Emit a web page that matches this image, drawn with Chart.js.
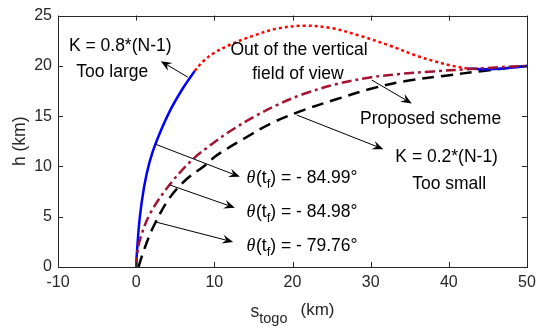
<!DOCTYPE html>
<html>
<head>
<meta charset="utf-8">
<script src="https://cdn.jsdelivr.net/npm/chart.js@4.4.0/dist/chart.umd.min.js"></script>
<style>
html, body { margin: 0; padding: 0; background: #fff; }
#wrap { width: 543px; height: 328px; }
</style>
</head>
<body>
<div id="wrap"><canvas id="trajChart" width="543" height="328"></canvas></div>
<script>
// axis ticks
var xTicks = [-10, 0, 10, 20, 30, 40, 50];
var yTicks = [0, 5, 10, 15, 20, 25];

// K = 0.8*(N-1), visible part
var blueX = [0, 0.1, 0.46, 1.0, 1.7, 2.6, 4.3, 6.0, 7.5];
var blueY = [0, 1.5, 4.9, 7.9, 10.4, 12.5, 15.5, 17.8, 19.5];
var blueTailX = [42.3, 44.9, 47.5, 50];
var blueTailY = [19.75, 19.66, 19.78, 19.98];

// out of the vertical field of view
var redX = [7.5, 8.5, 10, 12, 15, 18, 21.5, 25, 28.6, 32.5, 35.9, 38, 40.2, 42.3];
var redY = [19.5, 20.4, 21.3, 22.1, 23.0, 23.7, 24.0, 23.75, 23.0, 22.0, 21.0, 20.5, 20.05, 19.75];

// proposed scheme
var propX = [0, 0.12, 0.46, 1.74, 4.3, 7.3, 10, 12, 15, 18, 21.4, 25.7, 29.9, 33.8, 38, 42.3, 46, 50];
var propY = [0, 1.2, 2.65, 5.25, 8.2, 10.75, 12.4, 13.5, 14.9, 16.1, 17.2, 18.2, 18.85, 19.2, 19.45, 19.66, 19.85, 20];

// K = 0.2*(N-1)
var blackX = [0.3, 1.0, 2.2, 4.3, 6.4, 8.8, 10.3, 14.1, 17.3, 21.4, 25.7, 29.9, 34.5, 39.3, 44.4, 50];
var blackY = [0, 1.7, 4.0, 6.9, 8.7, 10.1, 11.1, 12.9, 14.3, 15.6, 16.7, 17.7, 18.5, 19.0, 19.5, 20];

var thetaLabels = ['- 84.99°', '- 84.98°', '- 79.76°'];

var SANS = "'Liberation Sans', Arial, Helvetica, sans-serif";
var AX = '#262626';

function pts(xs, ys) {
	return xs.map(function(x, i) { return {x: x, y: ys[i]}; });
}

function arrow(ctx, x1, y1, x2, y2) {
	var a = Math.atan2(y2 - y1, x2 - x1);
	var dx = Math.cos(a), dy = Math.sin(a);
	var len = 11, w = 4.5, notch = 7;
	ctx.beginPath();
	ctx.moveTo(x1, y1);
	ctx.lineTo(x2 - notch * dx, y2 - notch * dy);
	ctx.stroke();
	ctx.beginPath();
	ctx.moveTo(x2, y2);
	ctx.lineTo(x2 - len * dx - w * dy, y2 - len * dy + w * dx);
	ctx.lineTo(x2 - notch * dx, y2 - notch * dy);
	ctx.lineTo(x2 - len * dx + w * dy, y2 - len * dy - w * dx);
	ctx.closePath();
	ctx.fill();
}

var decorPlugin = {
	id: 'decor',
	afterDraw: function(chart) {
		var ctx = chart.ctx, a = chart.chartArea;
		var xs = chart.scales.x, ys = chart.scales.y;
		function px(v) { return xs.getPixelForValue(v); }
		function py(v) { return ys.getPixelForValue(v); }
		ctx.save();

		// box + inward ticks
		ctx.strokeStyle = AX;
		ctx.lineWidth = 1;
		ctx.strokeRect(Math.round(a.left) + 0.5, Math.round(a.top) + 0.5,
			Math.round(a.right - a.left), Math.round(a.bottom - a.top));
		ctx.beginPath();
		xTicks.forEach(function(v) {
			var x = Math.round(px(v)) + 0.5;
			ctx.moveTo(x, a.bottom); ctx.lineTo(x, a.bottom - 5);
			ctx.moveTo(x, a.top); ctx.lineTo(x, a.top + 5);
		});
		yTicks.forEach(function(v) {
			var y = Math.round(py(v)) + 0.5;
			ctx.moveTo(a.left, y); ctx.lineTo(a.left + 5, y);
			ctx.moveTo(a.right, y); ctx.lineTo(a.right - 5, y);
		});
		ctx.stroke();

		// axis titles
		ctx.fillStyle = AX;
		ctx.textBaseline = 'alphabetic';
		ctx.save();
		ctx.translate(25, (a.top + a.bottom) / 2);
		ctx.rotate(-Math.PI / 2);
		ctx.textAlign = 'center';
		ctx.font = '17.5px ' + SANS;
		ctx.fillText('h (km)', 0, 0);
		ctx.restore();

		ctx.textAlign = 'left';
		var cx = (a.left + a.right) / 2 - 42;
		ctx.font = '17.5px ' + SANS;
		ctx.fillText('s', cx, 317);
		cx += ctx.measureText('s').width;
		ctx.font = '14.5px ' + SANS;
		ctx.fillText('togo', cx, 323);
		cx += ctx.measureText('togo').width + 13;
		ctx.font = '17px ' + SANS;
		ctx.fillText('(km)', cx, 315);

		// annotations
		ctx.fillStyle = '#000';
		ctx.strokeStyle = '#000';
		ctx.font = '17.5px ' + SANS;
		ctx.textAlign = 'center';
		ctx.textBaseline = 'middle';
		ctx.fillText('K = 0.8*(N-1)', px(-2.04), py(21.92));
		ctx.fillText('Too large', px(-3.06), py(19.34));
		ctx.fillText('Out of the vertical', px(20.83), py(21.6));
		ctx.fillText('field of view', px(20.7), py(19.17));
		ctx.fillText('Proposed scheme', px(37.67), py(14.7));
		ctx.fillText('K = 0.2*(N-1)', px(39.72), py(10.91));
		ctx.fillText('Too small', px(40.04), py(8.22));

		ctx.lineWidth = 1;
		arrow(ctx, px(6.61), py(18.88), px(3.15), py(20.47));
		arrow(ctx, px(30.14), py(18.59), px(35.26), py(16.26));
		arrow(ctx, px(20.53), py(15.12), px(31.63), py(11.72));
		arrow(ctx, px(2.47), py(12.21), px(13.27), py(8.97));
		arrow(ctx, px(4.30), py(8.16), px(12.63), py(5.89));
		arrow(ctx, px(2.38), py(4.50), px(12.41), py(2.49));

		// theta(t_f) labels
		var thY = [8.97, 5.57, 2.17];
		ctx.textAlign = 'left';
		ctx.textBaseline = 'alphabetic';
		thetaLabels.forEach(function(lab, i) {
			var x = px(14.13), y = py(thY[i]) + 6;
			ctx.font = 'italic 18px "Liberation Serif", "Times New Roman", serif';
			ctx.fillText('θ', x, y);
			x += ctx.measureText('θ').width + 0.5;
			ctx.font = '17.5px ' + SANS;
			ctx.fillText('(t', x, y);
			x += ctx.measureText('(t').width;
			ctx.font = '13px ' + SANS;
			ctx.fillText('f', x, y + 5);
			x += ctx.measureText('f').width;
			ctx.font = '17.5px ' + SANS;
			ctx.fillText(') = ' + lab, x, y);
		});
		ctx.restore();
	}
};

var lineBase = {
	showLine: true,
	pointRadius: 0,
	borderWidth: 2.5,
	fill: false,
	tension: 0.35
};

var conf_traj = {
	type: 'scatter',
	data: {
		datasets: [
			Object.assign({}, lineBase, {
				label: 'Proposed scheme',
				data: pts(propX, propY),
				borderColor: '#A2142F',
				borderDash: [10, 4, 3, 4]
			}),
			Object.assign({}, lineBase, {
				label: 'Out of FOV',
				data: pts(redX, redY),
				borderColor: '#FF0000',
				borderDash: [3, 3]
			}),
			Object.assign({}, lineBase, {
				label: 'K = 0.8*(N-1)',
				data: pts(blueX, blueY),
				borderColor: '#0000FF'
			}),
			Object.assign({}, lineBase, {
				label: 'K = 0.8*(N-1) tail',
				data: pts(blueTailX, blueTailY),
				borderColor: '#0000FF'
			}),
			Object.assign({}, lineBase, {
				label: 'K = 0.2*(N-1)',
				data: pts(blackX, blackY),
				borderColor: '#000000',
				borderDash: [12, 7]
			})
		]
	},
	options: {
		responsive: false,
		animation: false,
		devicePixelRatio: 1,
		layout: { padding: { left: 0, right: 16, top: 10, bottom: 0 } },
		plugins: {
			legend: { display: false },
			tooltip: { enabled: false }
		},
		scales: {
			x: {
				type: 'linear',
				min: -10,
				max: 50,
				afterBuildTicks: function(s) { s.ticks = xTicks.map(function(v) { return {value: v}; }); },
				afterFit: function(s) { s.height = 61; },
				grid: { display: false, drawTicks: false },
				border: { display: false },
				ticks: { padding: 6, color: AX, font: { family: SANS, size: 16 }, maxRotation: 0 }
			},
			y: {
				type: 'linear',
				min: 0,
				max: 25,
				afterBuildTicks: function(s) { s.ticks = yTicks.map(function(v) { return {value: v}; }); },
				afterFit: function(s) { s.width = 58; },
				grid: { display: false, drawTicks: false },
				border: { display: false },
				ticks: { padding: 6, color: AX, font: { family: SANS, size: 16 } }
			}
		}
	},
	plugins: [decorPlugin]
};

var ctx = document.getElementById("trajChart").getContext("2d");
var trajChart = new Chart(ctx, conf_traj);
</script>
</body>
</html>
